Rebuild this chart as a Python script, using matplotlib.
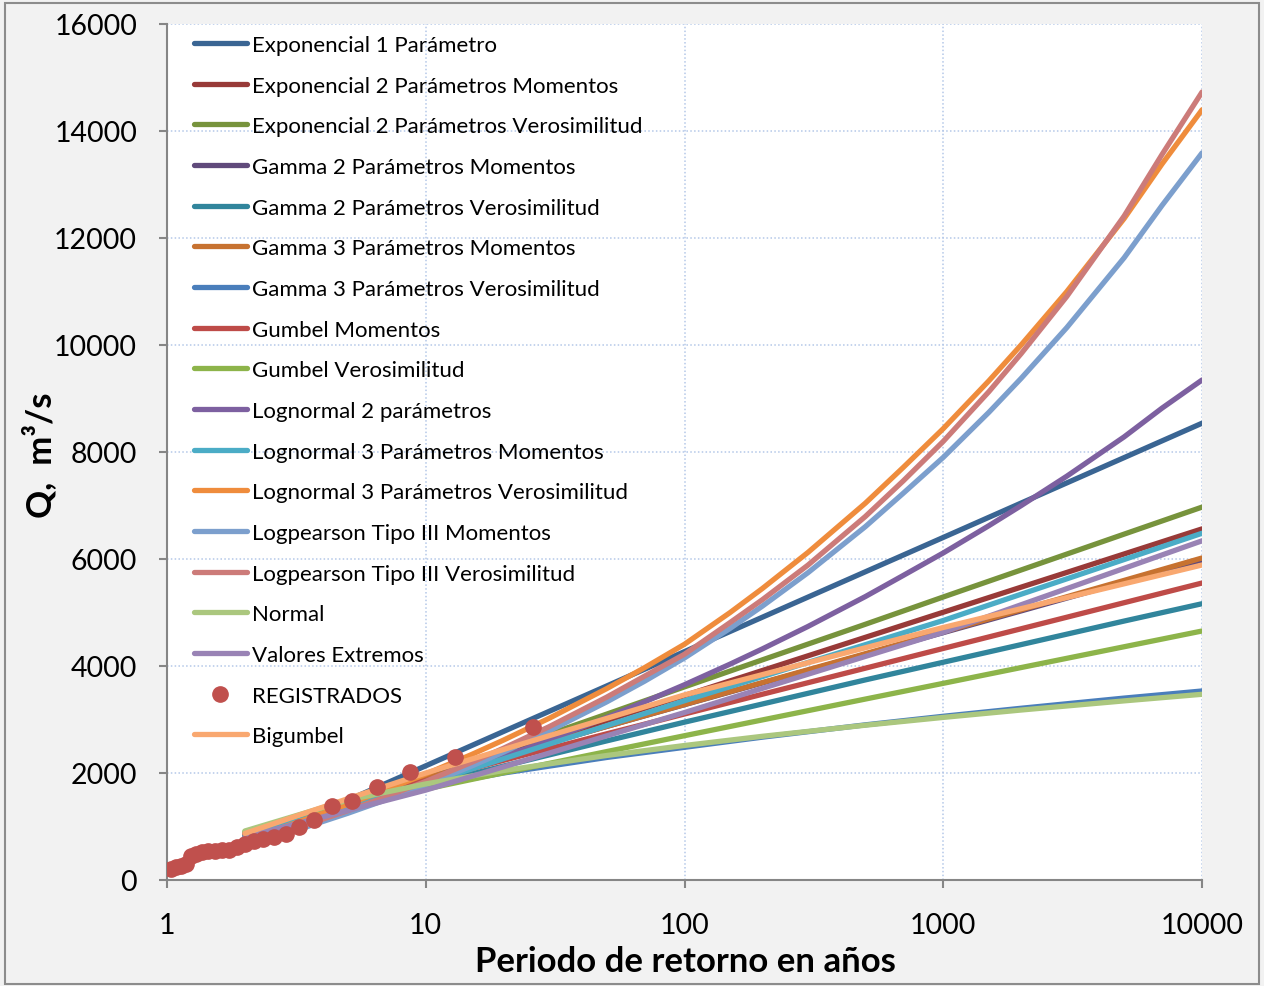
import matplotlib.pyplot as plt
from matplotlib.patches import Rectangle
from matplotlib.ticker import FixedLocator, NullLocator

plt.rcParams['font.family'] = ['Lato', 'DejaVu Sans']

# periodos de retorno donde se leen las curvas casi rectas
T = [2, 5, 10, 20, 50, 100, 200, 500, 1000, 2000, 5000, 10000]
# y donde se leen las curvas con mas curvatura
T_dense = [2, 3, 5, 7, 10, 15, 20, 30, 50, 70, 100, 150, 200, 300, 500, 700,
           1000, 1500, 2000, 3000, 5000, 7000, 10000]

exp_1 = [643, 1492, 2134, 2777, 3626, 4269, 4912, 5761, 6403, 7046, 7895, 8538]
exp_2_mom = [800, 1420, 1889, 2358, 2978, 3447, 3916, 4536, 5005, 5474, 6094, 6563]
exp_2_ver = [750, 1420, 1925, 2430, 3100, 3610, 4115, 4780, 5290, 5795, 6465, 6970]
gamma_2_mom = [850, 1476, 1909, 2327, 2870, 3277, 3683, 4218, 4624, 5030, 5570, 5980]
gamma_2_ver = [820, 1390, 1770, 2130, 2600, 2950, 3290, 3740, 4070, 4400, 4840, 5164]
gamma_3_mom = [830, 1460, 1900, 2320, 2870, 3280, 3690, 4230, 4640, 5050, 5600, 6019]
gamma_3_ver = [880, 1440, 1740, 2000, 2290, 2480, 2670, 2900, 3060, 3210, 3400, 3533]
gumbel_mom = [855, 1456, 1855, 2237, 2732, 3103, 3472, 3959, 4328, 4696, 5183, 5551]
gumbel_ver = [900, 1381, 1699, 2005, 2400, 2697, 2992, 3382, 3676, 3971, 4360, 4654]
lognormal_3_mom = [820, 1378, 1800, 2267, 2884, 3351, 3802, 4399, 4851, 5342, 5990, 6481]
normal = [916, 1494, 1796, 2046, 2327, 2514, 2686, 2893, 3039, 3177, 3348, 3471]
valores_extremos = [800, 1301, 1680, 2116, 2694, 3130, 3582, 4179, 4630, 5145, 5825, 6340]
bigumbel = [870, 1520, 2000, 2440, 3020, 3460, 3839, 4341, 4720, 5072, 5536, 5888]

lognormal_2 = [759, 1016, 1340, 1561, 1805, 2091, 2304, 2618, 3037, 3328, 3650, 4035,
               4320, 4739, 5298, 5692, 6113, 6622, 6998, 7547, 8283, 8819, 9346]
lognormal_3_ver = [743, 1033, 1415, 1682, 1981, 2343, 2616, 3023, 3576, 3967, 4407, 4999,
                   5449, 6123, 7044, 7711, 8437, 9330, 10002, 10997, 12364, 13382, 14396]
logpearson_mom = [631, 894, 1247, 1497, 1780, 2127, 2390, 2786, 3328, 3714, 4151, 4703,
                  5119, 5744, 6605, 7228, 7900, 8741, 9377, 10324, 11631, 12607, 13590]
logpearson_ver = [661, 933, 1296, 1553, 1843, 2196, 2464, 2866, 3417, 3809, 4220, 4812,
                  5240, 5886, 6795, 7459, 8199, 9127, 9839, 10906, 12411, 13559, 14728]

# caudales registrados (posicion de Weibull)
T_obs = [26.0, 13.0, 8.67, 6.5, 5.2, 4.33, 3.71, 3.25, 2.89, 2.6, 2.36, 2.17, 2.0,
         1.86, 1.73, 1.63, 1.53, 1.44, 1.37, 1.3, 1.24, 1.18, 1.13, 1.08, 1.04]
Q_obs = [2854, 2293, 2024, 1733, 1482, 1390, 1120, 985, 860, 800, 765, 735, 680,
         610, 565, 560, 550, 540, 520, 480, 450, 290, 260, 240, 210]

series = [
    ("Exponencial 1 Parámetro", T, exp_1, "#3a6593"),
    ("Exponencial 2 Parámetros Momentos", T, exp_2_mom, "#983a38"),
    ("Exponencial 2 Parámetros Verosimilitud", T, exp_2_ver, "#77933c"),
    ("Gamma 2 Parámetros Momentos", T, gamma_2_mom, "#604a7b"),
    ("Gamma 2 Parámetros Verosimilitud", T, gamma_2_ver, "#31859c"),
    ("Gamma 3 Parámetros Momentos", T, gamma_3_mom, "#c77230"),
    ("Gamma 3 Parámetros Verosimilitud", T, gamma_3_ver, "#4a7ebb"),
    ("Gumbel Momentos", T, gumbel_mom, "#be4b48"),
    ("Gumbel Verosimilitud", T, gumbel_ver, "#8db44a"),
    ("Lognormal 2 parámetros", T_dense, lognormal_2, "#7d60a0"),
    ("Lognormal 3 Parámetros Momentos", T, lognormal_3_mom, "#4bacc6"),
    ("Lognormal 3 Parámetros Verosimilitud", T_dense, lognormal_3_ver, "#ef8c3c"),
    ("Logpearson Tipo III Momentos", T_dense, logpearson_mom, "#7c9fcd"),
    ("Logpearson Tipo III Verosimilitud", T_dense, logpearson_ver, "#cc7b79"),
    ("Normal", T, normal, "#abc77e"),
    ("Valores Extremos", T, valores_extremos, "#9983b5"),
]

fig = plt.figure(figsize=(12.64, 9.87), dpi=100, facecolor="#f2f2f2")
fig.patches.append(Rectangle((0.004, 0.002), 0.992, 0.994, transform=fig.transFigure,
                             fill=False, edgecolor="#8c8c8c", linewidth=1.5))
ax = fig.add_axes([0.1321, 0.1074, 0.8189, 0.8673])
ax.set_facecolor("white")

for i, (name, tt, q, color) in enumerate(series):
    ax.plot(tt, q, color=color, lw=3.8, label=name, solid_capstyle="round", zorder=3 + i * 0.01)

ax.plot(T_obs, Q_obs, "o", color="#c0504d", ms=11, label="REGISTRADOS", zorder=5)
ax.plot(T, bigumbel, color="#f9a870", lw=3.8, label="Bigumbel", solid_capstyle="round", zorder=4)

ax.set_xscale("log")
ax.set_xlim(1, 10000)
ax.set_ylim(0, 16000)
ax.xaxis.set_major_locator(FixedLocator([1, 10, 100, 1000, 10000]))
ax.xaxis.set_minor_locator(NullLocator())
ax.set_xticklabels(["1", "10", "100", "1000", "10000"])
ax.set_yticks(range(0, 16001, 2000))

ax.grid(True, color="#b4c8e8", linestyle=(0, (1, 1.5)), linewidth=1.1)
ax.set_axisbelow(True)
for s in ["top", "right"]:
    ax.spines[s].set_visible(False)
for s in ["left", "bottom"]:
    ax.spines[s].set_color("#868686")
    ax.spines[s].set_linewidth(1.5)
ax.tick_params(length=6, width=1.5, color="#868686", labelsize=20.5)
ax.tick_params(axis="y", pad=15.5)
ax.tick_params(axis="x", pad=17)

fig.text(0.542, 0.0253, "Periodo de retorno en años", fontsize=25, fontweight="bold",
         ha="center", va="center")
fig.text(0.0316, 0.539, "Q,  m³/s", fontsize=25, fontweight="bold", rotation=90,
         ha="center", va="center")

leg = ax.legend(loc="upper left", bbox_to_anchor=(0.020, 0.995), frameon=False, fontsize=16,
                handlelength=2.35, handletextpad=0.25, labelspacing=0.93, borderaxespad=0,
                borderpad=0.3, numpoints=1)

fig.savefig("out.png", dpi=100, facecolor=fig.get_facecolor())
